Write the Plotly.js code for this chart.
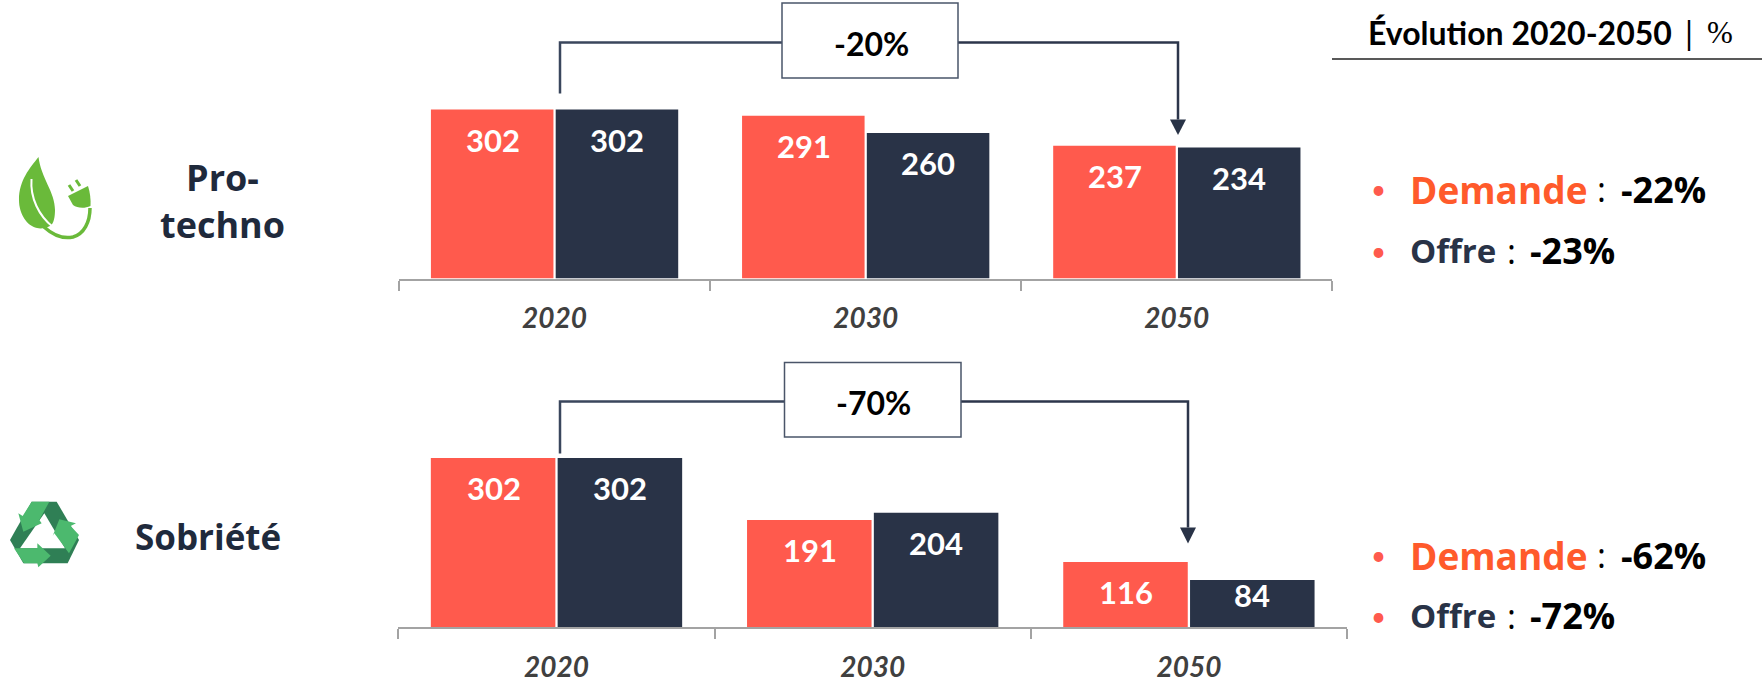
<!DOCTYPE html>
<html lang="fr">
<head>
<meta charset="utf-8">
<script src="https://cdn.plot.ly/plotly-3.0.1.min.js"></script>
<style>html,body{margin:0;padding:0;background:#fff}#chart{width:1762px;height:679px}</style>
</head>
<body>
<div id="chart"></div>
<script>
const categories = ['2020', '2030', '2050'];
const technoDemande = [302, 291, 237];
const technoOffre = [302, 260, 234];
const sobrieteDemande = [302, 191, 116];
const sobrieteOffre = [302, 204, 84];
const technoDelta = '-20%';
const sobrieteDelta = '-70%';
const technoEvolution = ['-22%', '-23%'];
const sobrieteEvolution = ['-62%', '-72%'];

const W = 1762, H = 679;
const RED = '#ff5a4d', NAVY = '#293347', ORANGE = '#ff5a2b', AXIS = '#a3a3a3', INK = '#1f2a3c';
const FONT = 'Lato, sans-serif', WIDE = '"Open Sans", sans-serif', SERIF = '"Liberation Serif", serif';
const px = x => x / W, py = y => 1 - y / H;
const PX_PER_UNIT = 0.5596, Y_MAX = 400;

function panelDomainY(base) {
  return [py(base), py(base - Y_MAX * PX_PER_UNIT)];
}
function barTrace(name, y, color, xa, ya) {
  return {type: 'bar', name, x: categories, y, xaxis: xa, yaxis: ya,
    marker: {color, line: {width: 0}}, hoverinfo: 'skip', showlegend: false};
}
const data = [
  barTrace('Demande', technoDemande, RED, 'x', 'y'),
  barTrace('Offre', technoOffre, NAVY, 'x', 'y'),
  barTrace('Demande', sobrieteDemande, RED, 'x2', 'y2'),
  barTrace('Offre', sobrieteOffre, NAVY, 'x2', 'y2')
];

function xAxis(left, right, anchor) {
  return {domain: [px(left), px(right)], anchor, type: 'category', categoryorder: 'array',
    categoryarray: categories, range: [-0.5, 2.5], tickson: 'boundaries', ticks: 'outside', ticklen: 10, tickwidth: 2,
    tickcolor: AXIS, showline: true, linecolor: AXIS, linewidth: 2, showgrid: false, zeroline: false,
    tickangle: 0, ticklabelstandoff: 14, fixedrange: true,
    tickfont: {family: FONT, size: 28, color: '#404040', weight: 'bold', style: 'italic'}};
}
function yAxis(base, anchor) {
  return {domain: panelDomainY(base), anchor, range: [0, Y_MAX], visible: false, fixedrange: true};
}

const annotations = [];
function freeText(x, y, text, size, color, anchor, family) {
  annotations.push({xref: 'paper', yref: 'paper', x: px(x), y: py(y), text, showarrow: false,
    xanchor: anchor || 'center', yanchor: 'middle', align: anchor === 'left' ? 'left' : 'center',
    font: {family: family || FONT, size, color}, borderpad: 0});
}
function barLabels(values, xa, ya, shift) {
  values.forEach((v, i) => {
    annotations.push({xref: xa, yref: ya, x: i, y: v, text: '<b>' + v + '</b>',
      showarrow: false, xanchor: 'center', yanchor: 'middle', xshift: shift,
      yshift: v < 100 ? -15 : -30, font: {family: FONT, size: 31, color: '#ffffff'}});
  });
}
barLabels(technoDemande, 'x', 'y', -62);
barLabels(technoOffre, 'x', 'y', 62);
barLabels(sobrieteDemande, 'x2', 'y2', -63);
barLabels(sobrieteOffre, 'x2', 'y2', 63);

freeText(222.5, 201, '<b>Pro-<br>techno</b>', 36, INK, 'center', WIDE);
freeText(208, 536, '<b>Sobriété</b>', 35, INK, 'center', WIDE);
freeText(871, 43, '<b>' + technoDelta + '</b>', 32, '#000');
freeText(873, 402, '<b>' + sobrieteDelta + '</b>', 32, '#000');
freeText(1367, 32, '<b>Évolution 2020-2050</b>', 32, '#000', 'left');
freeText(1689, 32, '|', 32, '#000');
freeText(1720, 32, '%', 31, '#000', 'center', SERIF);

function evolution(yD, yO, vals) {
  freeText(1378, yD, '•', 26, RED);
  freeText(1378, yO, '•', 26, RED);
  freeText(1409, yD, '<b>Demande</b>', 37, ORANGE, 'left', WIDE);
  freeText(1601, yD, ':', 34, '#000', 'center', WIDE);
  freeText(1620, yD, '<b>' + vals[0] + '</b>', 36, '#000', 'left', WIDE);
  freeText(1409, yO, '<b>Offre</b>', 33, NAVY, 'left', WIDE);
  freeText(1511, yO, ':', 34, '#000', 'center', WIDE);
  freeText(1529, yO, '<b>' + vals[1] + '</b>', 36, '#000', 'left', WIDE);
}
evolution(189, 250.5, technoEvolution);
evolution(555, 615.5, sobrieteEvolution);

// convert "x,y" pixel pairs of a path to paper fractions
const toPaper = d => d.replace(/(-?[\d.]+),(-?[\d.]+)/g, (m, a, b) => px(+a) + ',' + py(+b));
const shapes = [];
function addPath(d, fill, line, lw) {
  shapes.push({type: 'path', xref: 'paper', yref: 'paper', path: toPaper(d),
    fillcolor: fill || 'rgba(0,0,0,0)', line: {color: line || 'rgba(0,0,0,0)', width: lw || 0}});
}
function connector(x0, y0, yTop, boxL, boxR, boxT, boxB, x1, headTop, tip) {
  addPath(`M${x0},${y0} L${x0},${yTop} L${boxL},${yTop}`, null, '#3a465c', 2.5);
  addPath(`M${boxR},${yTop} L${x1},${yTop} L${x1},${headTop}`, null, '#2c364b', 2.5);
  addPath(`M${x1 - 8},${headTop} L${x1 + 8},${headTop} L${x1},${tip} Z`, NAVY);
  addPath(`M${boxL},${boxT} L${boxR},${boxT} L${boxR},${boxB} L${boxL},${boxB} Z`, '#ffffff', '#4a5569', 1.5);
}
connector(560, 93.5, 42.5, 782, 958, 3, 78, 1178, 119.5, 135);
connector(560, 453.5, 401.5, 784.5, 961, 362.5, 437, 1188, 527.5, 543.5);
addPath('M1332,59 L1762,59', null, '#222222', 1.5);

// leaf + plug icon
const LEAF = '#6aba3a';
addPath('M38.5,157 C30,168 19,180 19,200 C19,214 27,226 37,228 C41,229 46,228 50,226 C54,224 55,216 55,210 C55,192 41,178 38.5,157 Z', LEAF);
addPath('M31.5,179 C30,198 39,216 53,227', null, '#ffffff', 2);
addPath('M44,227 C54,236 64,239 73,237 C84,234 90,222 90,208', null, LEAF, 3.5);
addPath('M68,196 L88,186 C90,192 91,200 90.5,206 C84,209 77,208 73,205 Z', LEAF);
addPath('M69,185 L73,191 M76,180 L80,186', null, LEAF, 3);

// recycling icon
const DARK = '#2f7f55', LIGHT = '#4cb96e';
const rx = (x, y) => (x / 3) + ',' + (470 + y / 3);
function recycle(pts, fill) { addPath('M' + pts.map(p => rx(p[0], p[1])).join(' L') + ' Z', fill); }
recycle([[95,95],[170,95],[237,210],[203,280],[70,280],[30,210]], DARK);
recycle([[133,130],[195,235],[60,235]], '#ffffff');
recycle([[95,95],[148,95],[118,150],[125,160],[70,185],[55,130],[68,138]], LIGHT);
recycle([[178,148],[228,160],[212,168],[237,195],[207,250],[163,190],[158,198]], LIGHT);
recycle([[42,235],[112,235],[112,220],[152,257],[115,292],[112,280],[72,280]], LIGHT);

const layout = {
  width: W, height: H, autosize: false, margin: {l: 0, r: 0, t: 0, b: 0},
  paper_bgcolor: '#fff', plot_bgcolor: 'rgba(0,0,0,0)', barmode: 'group', bargap: 0.198, bargroupgap: 0.018,
  showlegend: false, hovermode: false, font: {family: FONT},
  xaxis: xAxis(399, 1332.4, 'y'), yaxis: yAxis(278.5, 'x'),
  xaxis2: xAxis(398.4, 1347, 'y2'), yaxis2: yAxis(627, 'x2'),
  annotations, shapes
};
Plotly.newPlot('chart', data, layout, {displayModeBar: false, staticPlot: true});
</script>
</body>
</html>
